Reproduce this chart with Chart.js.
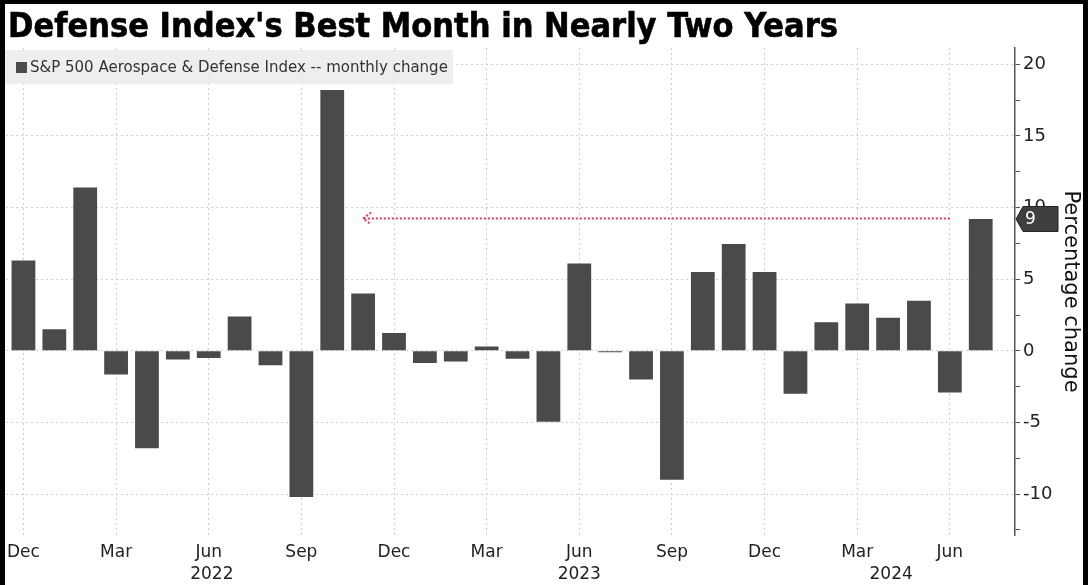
<!DOCTYPE html>
<html>
<head>
<meta charset="utf-8">
<title>Defense Index's Best Month in Nearly Two Years</title>
<script src="https://cdn.jsdelivr.net/npm/chart.js@4.4.1/dist/chart.umd.min.js"></script>
<style>
  html, body { margin: 0; padding: 0; background: #fff; }
  #wrap { position: relative; width: 1088px; height: 585px; overflow: hidden; background: #fff; }
  #chart-title {
    position: absolute; left: 8px; top: 8px; margin: 0; z-index: 2;
    font: bold 34px/34px 'Liberation Sans Narrow', 'DejaVu Sans Condensed', sans-serif;
    color: #000; white-space: nowrap; -webkit-text-stroke: 0.6px #000;
  }
  #frame {
    position: absolute; left: 0; top: 0; width: 1088px; height: 585px; box-sizing: border-box;
    border-left: 5px solid #000; border-top: 4px solid #000; border-right: 5px solid #000;
    pointer-events: none; z-index: 3;
  }
  canvas { position: absolute; left: 0; top: 0; }
</style>
</head>
<body>
<div id="wrap">
  <canvas id="chart" width="1088" height="585"></canvas>
  <h1 id="chart-title">Defense Index's Best Month in Nearly Two Years</h1>
  <div id="frame"></div>
</div>
<script>
// Dec 2021 .. Jul 2024, one bar per month
const monthNames = ['Dec', 'Jan', 'Feb', 'Mar', 'Apr', 'May', 'Jun', 'Jul', 'Aug', 'Sep', 'Oct', 'Nov',
  'Dec', 'Jan', 'Feb', 'Mar', 'Apr', 'May', 'Jun', 'Jul', 'Aug', 'Sep', 'Oct', 'Nov',
  'Dec', 'Jan', 'Feb', 'Mar', 'Apr', 'May', 'Jun', 'Jul'];
const monthlyChange = [6.3, 1.5, 11.4, -1.65, -6.8, -0.6, -0.5, 2.4, -1.0, -10.2, 18.2, 4.0,
  1.25, -0.85, -0.75, 0.3, -0.55, -4.95, 6.1, -0.1, -2.0, -9.0, 5.5, 7.45,
  5.5, -3.0, 2.0, 3.3, 2.3, 3.5, -2.9, 9.2];
const xTickIdx = [0, 3, 6, 9, 12, 15, 18, 21, 24, 27, 30];
const yTicks = [-12.5, -10, -7.5, -5, -2.5, 0, 2.5, 5, 7.5, 10, 12.5, 15, 17.5, 20];
const yearLabels = ['2022', '2023', '2024'];
const yearPos = [6.1, 18, 28.1];
const seriesLabel = 'S&P 500 Aerospace & Defense Index -- monthly change';
const arrowFrom = 30; // Jun 2024
const arrowTo = 11;   // Nov 2022

const tickFont = { family: 'DejaVu Sans', size: 17 };

const overlay = {
  id: 'overlay',
  afterDatasetsDraw(chart) {
    const { ctx, scales: { x, y } } = chart;
    const last = monthlyChange[monthlyChange.length - 1];
    const ly = Math.round(y.getPixelForValue(last)) - 0.5;
    const x1 = x.getPixelForValue(arrowTo);
    const x2 = x.getPixelForValue(arrowFrom);
    ctx.save();
    ctx.strokeStyle = '#e8365d';
    ctx.lineWidth = 2;
    ctx.setLineDash([2, 2]);
    ctx.beginPath();
    ctx.moveTo(x2, ly);
    ctx.lineTo(x1, ly);
    ctx.stroke();
    ctx.beginPath();
    ctx.moveTo(x1 + 8, ly - 6);
    ctx.lineTo(x1, ly);
    ctx.lineTo(x1 + 8, ly + 6);
    ctx.stroke();
    ctx.restore();
  },
  afterDraw(chart) {
    const { ctx, scales: { x, y } } = chart;
    ctx.save();
    // legend
    ctx.fillStyle = 'rgba(236,236,236,0.9)';
    ctx.fillRect(5, 50, 448, 34);
    ctx.fillStyle = '#4a4a4a';
    ctx.fillRect(16, 62, 11, 11);
    ctx.fillStyle = '#333';
    ctx.font = '15px "DejaVu Sans"';
    ctx.textBaseline = 'middle';
    ctx.textAlign = 'left';
    ctx.fillText(chart.data.datasets[0].label, 30, 68);

    // last value tag on the axis
    const last = monthlyChange[monthlyChange.length - 1];
    const ty = y.getPixelForValue(last);
    const ax = chart.chartArea.right + 1;
    ctx.beginPath();
    ctx.moveTo(ax, ty);
    ctx.lineTo(ax + 7, ty - 12.5);
    ctx.lineTo(ax + 42, ty - 12.5);
    ctx.lineTo(ax + 42, ty + 12.5);
    ctx.lineTo(ax + 7, ty + 12.5);
    ctx.closePath();
    ctx.fillStyle = '#3f3f3f';
    ctx.fill();
    ctx.strokeStyle = '#222';
    ctx.lineWidth = 1;
    ctx.stroke();
    ctx.fillStyle = '#fff';
    ctx.font = '17px "DejaVu Sans"';
    ctx.fillText(String(Math.round(last)), ax + 9, ty + 1);

    // year labels under the month ticks
    ctx.fillStyle = '#222';
    ctx.textAlign = 'center';
    ctx.font = '17px "DejaVu Sans"';
    yearLabels.forEach((t, i) => ctx.fillText(t, x.getPixelForValue(yearPos[i]), 575));
    ctx.restore();
  }
};

new Chart(document.getElementById('chart'), {
  type: 'bar',
  data: {
    datasets: [{
      label: seriesLabel,
      data: monthlyChange.map((v, i) => ({ x: i, y: v })),
      backgroundColor: '#4a4a4a',
      borderWidth: 0,
      barPercentage: 0.77,
      categoryPercentage: 1
    }]
  },
  options: {
    responsive: false,
    animation: false,
    layout: { padding: { top: 48, left: 0, right: 0, bottom: 0 } },
    plugins: { legend: { display: false }, tooltip: { enabled: false } },
    scales: {
      x: {
        type: 'linear',
        min: -0.56,
        max: 32.11,
        offset: false,
        afterBuildTicks: s => { s.ticks = xTickIdx.map(v => ({ value: v })); },
        afterFit: s => { s.height = 50; },
        grid: { color: '#cfcfcf', lineWidth: 1, drawTicks: false, offset: false },
        border: { display: false, dash: [2, 3] },
        ticks: {
          autoSkip: false, maxRotation: 0, padding: 7, color: '#222', font: tickFont,
          callback: v => monthNames[v]
        }
      },
      y: {
        position: 'right',
        min: -12.85,
        max: 21.13,
        afterBuildTicks: s => { s.ticks = yTicks.map(v => ({ value: v })); },
        afterFit: s => { s.width = 73; },
        grid: {
          color: c => (c.tick && c.tick.value % 5 === 0) ? '#cfcfcf' : 'rgba(0,0,0,0)',
          lineWidth: 1,
          drawTicks: true,
          tickLength: 5,
          tickColor: '#555'
        },
        border: { display: true, color: '#555', width: 1.5, dash: [2, 3] },
        ticks: {
          padding: 3, color: '#222', font: { family: 'DejaVu Sans', size: 18 },
          callback: v => (v % 5 === 0 ? v : '')
        },
        title: {
          display: true, text: 'Percentage change', color: '#111',
          font: { family: 'DejaVu Sans', size: 21 },
          padding: { top: 5, bottom: 0 }
        }
      }
    }
  },
  plugins: [overlay]
});
</script>
</body>
</html>
